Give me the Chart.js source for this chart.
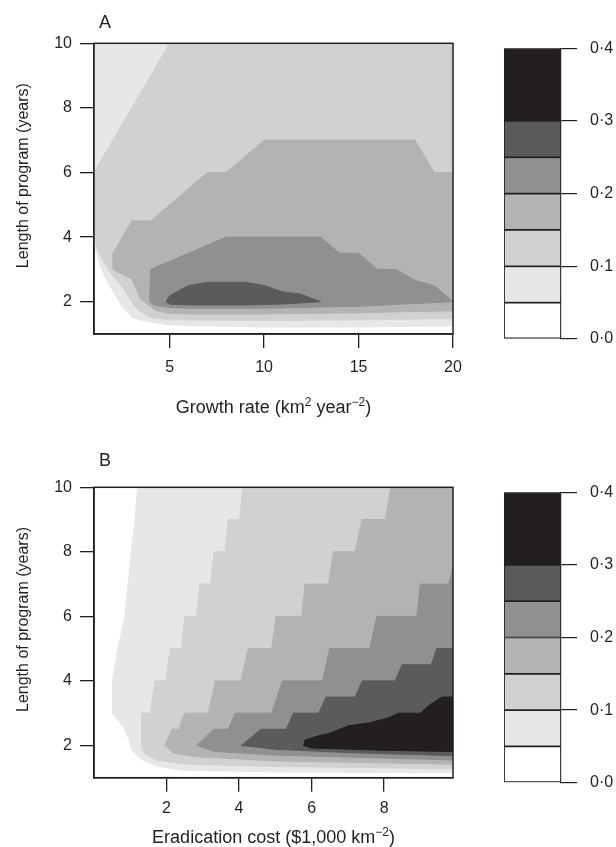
<!DOCTYPE html>
<html>
<head>
<meta charset="utf-8">
<script src="https://cdn.jsdelivr.net/npm/chart.js@4.4.1/dist/chart.umd.min.js"></script>
<style>
  html, body { margin: 0; padding: 0; background: #fff; }
  body { width: 616px; height: 847px; position: relative; overflow: hidden; }
  canvas { position: absolute; }
</style>
</head>
<body>
<canvas id="panelA" width="480" height="425" style="left:0;top:0"></canvas>
<canvas id="keyA" width="136" height="425" style="left:480px;top:0"></canvas>
<canvas id="panelB" width="480" height="422" style="left:0;top:425px"></canvas>
<canvas id="keyB" width="136" height="422" style="left:480px;top:425px"></canvas>
<script>
// contour levels and the key
const levels = [0.05, 0.10, 0.15, 0.20, 0.25, 0.30];
const keyBreaks = [0, 0.05, 0.10, 0.15, 0.20, 0.25, 0.30, 0.40];
const keyTicks = [0, 0.1, 0.2, 0.3, 0.4];

// panel A: growth rate vs length of program, region boundaries (x, y) for value >= level
const xTicksA = [5, 10, 15, 20];
const yTicks = [2, 4, 6, 8, 10];
const regionA05 = [[1,10],[20,10],[20,1.25],[15,1.22],[10,1.21],[5,1.28],[4.06,1.36],[3.06,1.49],[2.5,1.85],[2.03,2.29],[1.6,2.75],[1.33,3.11],[1.1,3.6],[1,3.9]];
const regionA10 = [[1,6],[5,10],[20,10],[20,1.48],[15,1.44],[10,1.42],[5,1.44],[4,1.5],[3.3,1.75],[3,2.0],[2.5,2.45],[2,2.8],[1.5,3.25],[1.2,3.6],[1,4.05]];
const regionA15 = [[2,3.5],[3,4.5],[4,4.5],[7,6],[8,6],[10,7],[18,7],[19,6],[20,6],[20,1.72],[15,1.66],[10,1.62],[6,1.62],[5,1.64],[4.3,1.72],[3.9,1.88],[3.45,2.1],[3,2.7],[2,3.0]];
const regionA20 = [[4,3.0],[8,4.0],[13,4.0],[14,3.5],[15,3.5],[16,3.0],[17,3.0],[18,2.65],[19,2.5],[20,2.0],[15,1.86],[10,1.8],[6,1.8],[5,1.82],[4.2,1.88],[3.95,2.0]];
const regionA25 = [[4.82,2.0],[5,2.18],[6,2.5],[7,2.6],[9,2.6],[10,2.5],[11,2.3],[11.9,2.24],[13,2.0],[11,1.93],[9,1.9],[6,1.9],[5,1.92]];

// panel B: eradication cost vs length of program
const xTicksB = [2, 4, 6, 8];
const regionB05 = [[1.2,10],[1.13,9],[1.03,8],[0.94,7],[0.85,6],[0.66,5],[0.51,4],[0.51,3],[0.65,2.8],[0.8,2.58],[0.97,2.17],[1.03,1.86],[1.35,1.55],[1.72,1.36],[2.46,1.23],[5,1.18],[9.9,1.15],[9.9,10]];
const regionB10 = [[4.10,10],[4.02,9],[3.70,9],[3.61,8],[3.31,8],[3.21,7],[2.92,7],[2.83,6],[2.51,6],[2.41,5],[2.10,5],[1.98,4],[1.68,4],[1.55,3],[1.31,3],[1.31,2.0],[1.4,1.76],[1.72,1.55],[2.5,1.42],[5,1.35],[9.9,1.28],[9.9,10]];
const regionB15 = [[8.19,10],[8.03,9],[7.39,9],[7.2,8],[6.6,8],[6.47,7],[5.82,7],[5.73,6],[5.02,6],[4.9,5],[4.25,5],[4.05,4],[3.35,4],[3.15,3],[2.5,3],[2.35,2.5],[2.15,2.5],[1.95,2.0],[2.2,1.76],[2.83,1.65],[5,1.52],[9.9,1.42],[9.9,10]];
const regionB20 = [[9.9,7.5],[9.78,7],[9.0,7],[8.9,6],[7.8,6],[7.6,5],[6.5,5],[6.3,4],[5.2,4],[4.9,3],[3.9,3],[3.7,2.5],[3.3,2.5],[2.83,2.0],[3.3,1.82],[5,1.7],[9.9,1.55]];
const regionB25 = [[9.9,5.0],[9.45,5],[9.3,4.5],[8.5,4.5],[8.3,4],[7.4,4],[7.2,3.5],[6.4,3.5],[6.2,3],[5.5,3],[5.3,2.5],[4.6,2.5],[4.07,2.0],[5,1.88],[7,1.78],[9.9,1.68]];
const regionB30 = [[9.9,3.5],[9.6,3.5],[9.25,3.25],[9.0,3.0],[8.4,3.0],[8.1,2.85],[7.6,2.7],[7.0,2.6],[6.5,2.38],[6.2,2.3],[5.82,2.17],[5.78,2.0],[6,1.92],[8,1.85],[9.9,1.81]];

const xTitleA = [["Growth rate (km", false], ["2", true], [" year", false], ["\u22122", true], [")", false]];
const xTitleB = [["Eradication cost ($1,000 km", false], ["\u22122", true], [")", false]];
const yTitle = [["Length of program (years)", false]];

const INK = "#231f20";
const FONT = '"Liberation Sans", Arial, sans-serif';
const shades = ["#e6e7e8", "#d0d1d3", "#b2b3b5", "#8f9092", "#5a5b5d", "#231f20"];
const keyShades = ["#ffffff"].concat(shades);

function drawParts(ctx, parts, cx, baseline, size) {
  const big = size + "px " + FONT;
  const small = Math.round(size * 0.68) + "px " + FONT;
  const rise = Math.round(size * 0.4);
  let w = 0;
  parts.forEach(([t, sup]) => {
    ctx.font = sup ? small : big;
    w += ctx.measureText(t).width;
  });
  let x = cx - w / 2;
  ctx.textAlign = "left";
  parts.forEach(([t, sup]) => {
    ctx.font = sup ? small : big;
    ctx.fillText(t, x, sup ? baseline - rise : baseline);
    x += ctx.measureText(t).width;
  });
}

function decor(letter, letterGap, xTitle, titleGap) {
  return {
    id: "decor",
    afterDraw(chart) {
      const { ctx, chartArea: a } = chart;
      ctx.save();
      ctx.strokeStyle = INK;
      ctx.lineWidth = 1.5;
      ctx.strokeRect(a.left, a.top, a.right - a.left, a.bottom - a.top);
      ctx.fillStyle = INK;
      ctx.textBaseline = "alphabetic";
      ctx.font = "18px " + FONT;
      ctx.textAlign = "left";
      ctx.fillText(letter, a.left + 5, a.top - letterGap);
      drawParts(ctx, xTitle, (a.left + a.right) / 2, a.bottom + titleGap, 18);
      ctx.translate(a.left - 66, (a.top + a.bottom) / 2 - 13);
      ctx.rotate(-Math.PI / 2);
      drawParts(ctx, yTitle, 0, 0, 16);
      ctx.restore();
    },
  };
}

function toPoints(region) {
  const pts = region.map(([x, y]) => ({ x, y }));
  pts.push({ x: region[0][0], y: region[0][1] });
  return pts;
}

function createPanel(canvas, regions, xMin, xMax, xTicks, letter, letterGap, xTitle, topPad, axisHeight, labelPad, titleGap) {
  const datasets = regions.map((region, i) => ({
    data: toPoints(region),
    backgroundColor: shades[i],
    borderColor: shades[i],
    borderWidth: 1,
    pointRadius: 0,
    tension: 0,
    fill: "shape",
    order: regions.length - i,
  }));
  return new Chart(canvas, {
    type: "line",
    data: { datasets },
    options: {
      responsive: false,
      animation: false,
      layout: { padding: { top: topPad, right: 27, left: 0, bottom: 0 } },
      plugins: { legend: { display: false }, tooltip: { enabled: false } },
      scales: {
        x: {
          type: "linear",
          min: xMin,
          max: xMax,
          afterBuildTicks: (scale) => { scale.ticks = xTicks.map((v) => ({ value: v })); },
          afterFit: (scale) => { scale.height = axisHeight; },
          grid: { drawOnChartArea: false, tickLength: 14, color: INK, lineWidth: 1.3 },
          border: { display: true, color: INK, width: 1.5 },
          ticks: { color: INK, font: { family: FONT, size: 16 }, padding: labelPad, maxRotation: 0 },
        },
        y: {
          type: "linear",
          min: 1,
          max: 10,
          afterBuildTicks: (scale) => { scale.ticks = yTicks.map((v) => ({ value: v })); },
          afterFit: (scale) => { scale.width = 94; },
          grid: { drawOnChartArea: false, tickLength: 14, color: INK, lineWidth: 1.3 },
          border: { display: true, color: INK, width: 1.5 },
          ticks: { color: INK, font: { family: FONT, size: 16 }, padding: 8 },
        },
      },
    },
    plugins: [decor(letter, letterGap, xTitle, titleGap)],
  });
}

function createKey(canvas, topPad, bottomPad) {
  const datasets = keyShades.map((color, i) => ({
    data: [[keyBreaks[i], keyBreaks[i + 1]]],
    backgroundColor: color,
    borderColor: INK,
    borderWidth: 1.2,
    borderSkipped: false,
    grouped: false,
    barPercentage: 1,
    categoryPercentage: 1,
  }));
  return new Chart(canvas, {
    type: "bar",
    data: { labels: [""], datasets },
    options: {
      responsive: false,
      animation: false,
      layout: { padding: { top: topPad, left: 24, right: 0, bottom: bottomPad } },
      plugins: { legend: { display: false }, tooltip: { enabled: false } },
      scales: {
        x: { display: false },
        y: {
          position: "right",
          min: 0,
          max: 0.4,
          afterBuildTicks: (scale) => { scale.ticks = keyTicks.map((v) => ({ value: v })); },
          afterFit: (scale) => { scale.width = 55; },
          grid: { drawOnChartArea: false, tickLength: 16, color: INK, lineWidth: 1.2 },
          border: { display: true, color: INK, width: 1.2 },
          ticks: {
            color: INK,
            font: { family: FONT, size: 16 },
            padding: 13,
            callback: (v) => v.toFixed(1).replace(".", "\u00b7"),
          },
        },
      },
    },
  });
}

createPanel(document.getElementById("panelA"),
  [regionA05, regionA10, regionA15, regionA20, regionA25],
  1, 20, xTicksA, "A", 15, xTitleA, 43.3, 91, 10, 79);
createPanel(document.getElementById("panelB"),
  [regionB05, regionB10, regionB15, regionB20, regionB25, regionB30],
  0, 9.9, xTicksB, "B", 21, xTitleB, 62.3, 69.3, 7, 65);
createKey(document.getElementById("keyA"), 48.3, 86);
createKey(document.getElementById("keyB"), 67.3, 64.3);
</script>
</body>
</html>
